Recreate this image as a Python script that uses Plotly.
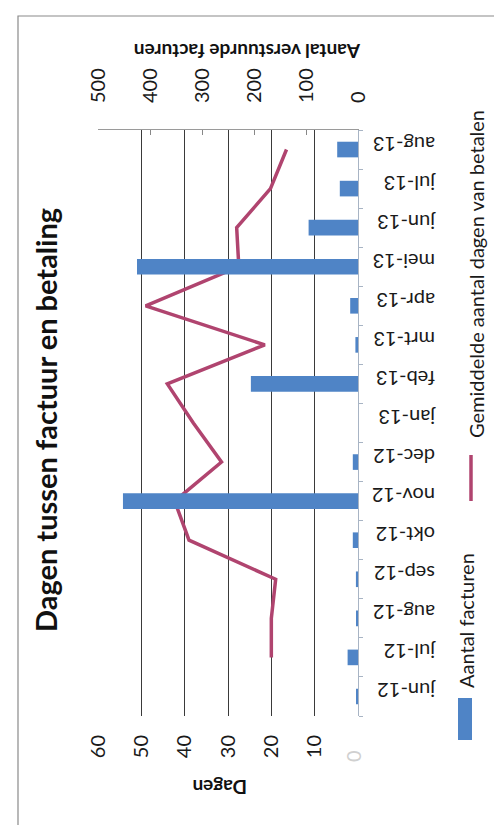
import plotly.graph_objects as go

months = ["jun-12", "jul-12", "aug-12", "sep-12", "okt-12", "nov-12", "dec-12",
          "jan-13", "feb-13", "mrt-13", "apr-13", "mei-13", "jun-13", "jul-13", "aug-13"]
facturen = [2, 20, 2, 4, 10, 452, 10, 0, 206, 5, 15, 425, 95, 35, 40]
dagen = [None, 20, 20, 19, 39, 42.3, 31.5, 38, 44, 21.5, 49, 27.5, 28, 20.2, 16.5]

dagen_ticks = [10, 20, 30, 40, 50, 60]
factuur_ticks = [0, 100, 200, 300, 400, 500]

title = "Dagen tussen factuur en betaling"
y1_title = "Dagen"
y2_title = "Aantal verstuurde facturen"
bar_name = "Aantal facturen"
line_name = "Gemiddelde aantal dagen van betalen"

BAR_COLOR = "#4f84c6"
LINE_COLOR = "#b0446f"
FONT = "Lato, 'Open Sans', sans-serif"

W, H = 502, 825
L, R, T, B = 90, 152, 122, 117
pw, ph = W - L - R, H - T - B


def px(x):
    return (x - L) / pw


def py(y):
    return 1 - (y - T) / ph


fig = go.Figure()
fig.add_trace(go.Bar(
    x=facturen, y=months, orientation="h", xaxis="x2", yaxis="y",
    marker=dict(color=BAR_COLOR, line=dict(width=0)), name=bar_name,
))
fig.add_trace(go.Scatter(
    x=dagen, y=months, mode="lines", xaxis="x", yaxis="y",
    line=dict(color=LINE_COLOR, width=3.5), name=line_name, connectgaps=False,
))

fig.update_layout(
    width=W, height=H,
    margin=dict(l=L, r=R, t=T, b=B, autoexpand=False),
    paper_bgcolor="white", plot_bgcolor="white",
    showlegend=False, bargap=0.6,
    font=dict(family=FONT, color="#1a1a1a", size=19),
    xaxis=dict(
        range=[60, 0], tickvals=dagen_ticks, ticktext=[str(v) for v in dagen_ticks],
        tickangle=-90, showgrid=True, gridcolor="#3a3a3a", gridwidth=1.2,
        zeroline=False, showline=False, side="bottom",
        tickfont=dict(size=20, family=FONT), ticklabelstandoff=14,
    ),
    xaxis2=dict(
        range=[500, 0], overlaying="x", side="top", tickvals=factuur_ticks,
        ticktext=[str(v) for v in factuur_ticks], tickangle=-90, showgrid=False,
        zeroline=False, showline=True, linecolor="#9a9a9a", linewidth=1,
        ticks="inside", ticklen=5, tickcolor="#888",
        tickfont=dict(size=20, family=FONT), ticklabelstandoff=22,
    ),
    yaxis=dict(
        categoryorder="array", categoryarray=months, side="right",
        range=[-0.5, len(months) - 0.5], showgrid=False, zeroline=False,
        showline=True, linecolor="#a8b4c4", linewidth=1,
        ticks="outside", ticklen=4, tickcolor="#a8b4c4", tickson="boundaries",
        tickangle=180, tickfont=dict(size=20, family=FONT), ticklabelstandoff=72,
    ),
)

annotations = [
    dict(text="<b>" + title + "</b>", x=px(37), y=py(412), textangle=-90,
         font=dict(size=29, family=FONT, color="#111")),
    dict(text="<b>" + y2_title + "</b>", x=px(240), y=py(44), textangle=180,
         font=dict(size=19, family=FONT, color="#111")),
    dict(text="<b>" + y1_title + "</b>", x=px(212), y=py(780), textangle=180,
         font=dict(size=19, family=FONT, color="#111")),
    dict(text="0", x=px(345), y=py(748), textangle=-90,
         font=dict(size=20, family=FONT, color="#d0d0d0")),
    dict(text=bar_name, x=px(458), y=py(613), textangle=-90,
         font=dict(size=20, family=FONT, color="#1a1a1a")),
    dict(text=line_name, x=px(468), y=py(266), textangle=-90,
         font=dict(size=20, family=FONT, color="#1a1a1a")),
]
for a in annotations:
    a.update(xref="paper", yref="paper", showarrow=False,
             xanchor="center", yanchor="middle")
fig.update_layout(annotations=annotations)

shapes = [
    dict(type="rect", xref="paper", yref="paper", x0=px(450), x1=px(464),
         y0=py(732), y1=py(690), fillcolor=BAR_COLOR, line=dict(width=0)),
    dict(type="line", xref="paper", yref="paper", x0=px(463), x1=px(463),
         y0=py(493), y1=py(447), line=dict(color=LINE_COLOR, width=3.5)),
    dict(type="rect", xref="paper", yref="paper", x0=px(10), x1=px(496),
         y0=py(8), y1=py(840), line=dict(color="#8a8a8a", width=1.2),
         fillcolor="rgba(0,0,0,0)"),
]
fig.update_layout(shapes=shapes)

fig.write_html("out.html")
